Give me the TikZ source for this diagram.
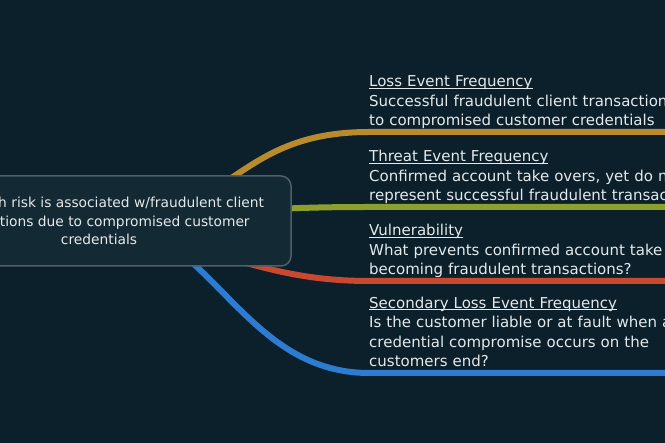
\documentclass[tikz,border=0pt]{standalone}
\usepackage{fontspec}
\setmainfont{DejaVu Sans}
\pgfdeclarelayer{bg}
\pgfdeclarelayer{links}
\pgfsetlayers{bg,links,main}
\definecolor{boardbg}{HTML}{0B202B}
\definecolor{hubfill}{HTML}{132A34}
\definecolor{hubline}{HTML}{4E5F67}
\definecolor{inkwhite}{HTML}{E4E9EB}
\definecolor{lossgold}{HTML}{B98B2E}
\definecolor{threatgreen}{HTML}{8CA12C}
\definecolor{vulnred}{HTML}{C9482F}
\definecolor{secblue}{HTML}{2E7CD1}
\newcommand{\headline}[1]{\setbox0=\hbox{#1}\rlap{\rule[-1.8pt]{\wd0}{0.9pt}}\box0}
\begin{document}
\begin{tikzpicture}[
x=1pt, y=-1pt,
hub/.style={
draw=hubline,
line width=1.5pt,
fill=hubfill,
rounded corners=10pt,
minimum width=384pt,
minimum height=90pt,
align=center,
text=inkwhite,
font=\fontsize{13.8}{18.5}\selectfont
},
leaf/.style={
anchor=south west,
text width=420pt,
align=left,
inner xsep=0pt,
inner ysep=0.4pt,
text=inkwhite,
font=\fontsize{15}{19.4}\selectfont
},
branch/.style={line width=6pt}
]

\useasboundingbox (0,0) rectangle (665,443);
\begin{pgfonlayer}{bg}
\fill[boardbg] (0,0) rectangle (665,443);
\end{pgfonlayer}

\node[hub] (risk) at (99,221)
{How much risk is associated w/fraudulent client\\transactions due to compromised customer\\credentials};

\node[leaf] (lef) at (369,132)
{\headline{Loss Event Frequency}\\Successful fraudulent client transactions\\to compromised customer credentials\strut};

\node[leaf] (tef) at (369,207)
{\headline{Threat Event Frequency}\\Confirmed account take overs, yet do not\\represent successful fraudulent transactions\strut};

\node[leaf] (vul) at (369,281)
{\headline{Vulnerability}\\What prevents confirmed account take overs\\becoming fraudulent transactions?\strut};

\node[leaf] (sle) at (369,373)
{\headline{Secondary Loss Event Frequency}\\Is the customer liable or at fault when a\\credential compromise occurs on the\\customers end?\strut};

\begin{pgfonlayer}{links}
\draw[branch, lossgold] (risk.center) .. controls (235,221) and (232,132) .. (lef.south west) -- (lef.south east);
\draw[branch, threatgreen] (risk.center) .. controls (250,209) and (300,207) .. (tef.south west) -- (tef.south east);
\draw[branch, vulnred] (risk.center) .. controls (220,250) and (270,281) .. (vul.south west) -- (vul.south east);
\draw[branch, secblue] (risk.center) .. controls (210,221) and (240,373) .. (sle.south west) -- (sle.south east);
\end{pgfonlayer}

\end{tikzpicture}
\end{document}
